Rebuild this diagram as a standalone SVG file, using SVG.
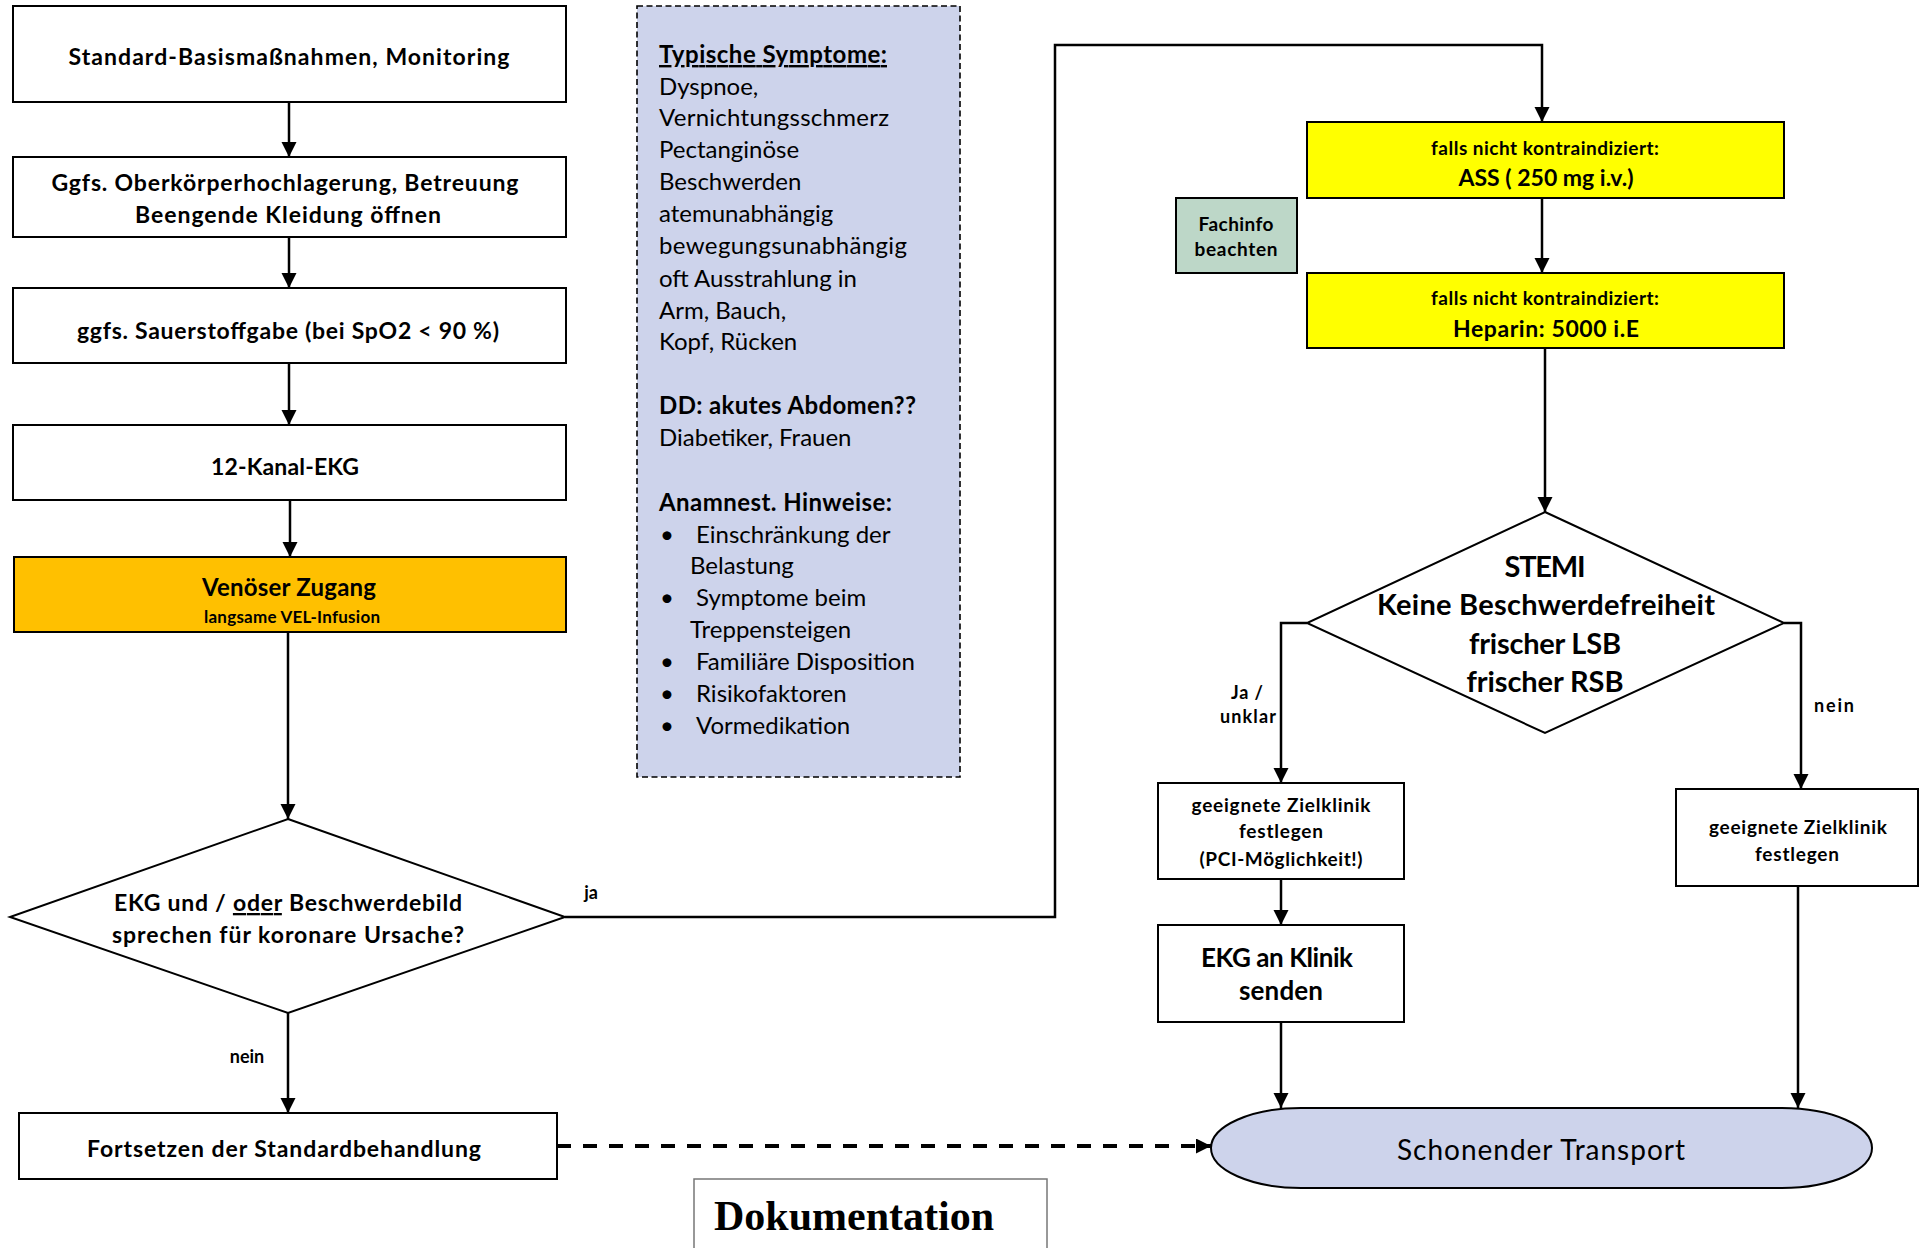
<svg xmlns="http://www.w3.org/2000/svg" width="1919" height="1248" viewBox="0 0 1919 1248">
  <defs>
    <style>
      .box { fill: #ffffff; stroke: #000; stroke-width: 2; }
      .orange { fill: #ffc000; }
      .yellow { fill: #ffff00; }
      .sage { fill: #bdd7c8; }
      .lav { fill: #cdd3eb; }
      .panel { fill: #cdd3eb; stroke: #000; stroke-width: 1.6; stroke-dasharray: 6 3.5; }
      .doc { fill: #ffffff; stroke: #777; stroke-width: 1.5; }
      .t { font-family: Lato, "Liberation Sans", sans-serif; fill: #000; }
      .b { font-weight: 700; }
      .c { text-anchor: middle; }
      .serif { font-family: "Liberation Serif", "Times New Roman", serif; font-weight: 700; fill: #000; }
      .line { fill: none; stroke: #000; stroke-width: 2.5; }
      .dash { fill: none; stroke: #000; stroke-width: 4; stroke-dasharray: 14 12; }
    </style>
    <marker id="arrow" markerUnits="userSpaceOnUse" markerWidth="16" markerHeight="16" refX="15" refY="7.5" orient="auto">
      <path d="M0,0 L15,7.5 L0,15 Z" fill="#000"/>
    </marker>
  </defs>

  <!-- connectors -->
  <g id="connectors">
    <path class="line" d="M289,102 V157" marker-end="url(#arrow)"/>
    <path class="line" d="M289,237 V288" marker-end="url(#arrow)"/>
    <path class="line" d="M289,363 V425" marker-end="url(#arrow)"/>
    <path class="line" d="M290,500 V557" marker-end="url(#arrow)"/>
    <path class="line" d="M288,632 V819" marker-end="url(#arrow)"/>
    <path class="line" d="M288,1013 V1113" marker-end="url(#arrow)"/>
    <path class="line" d="M565,917 H1055 V45 H1542 V122" marker-end="url(#arrow)"/>
    <path class="line" d="M1542,198 V273" marker-end="url(#arrow)"/>
    <path class="line" d="M1545,348 V512" marker-end="url(#arrow)"/>
    <path class="line" d="M1307,623 H1281 V783" marker-end="url(#arrow)"/>
    <path class="line" d="M1784,623 H1801 V789" marker-end="url(#arrow)"/>
    <path class="line" d="M1281,879 V925" marker-end="url(#arrow)"/>
    <path class="line" d="M1281,1022 V1108" marker-end="url(#arrow)"/>
    <path class="line" d="M1798,886 V1108" marker-end="url(#arrow)"/>
    <path class="dash" d="M557,1146 H1211" marker-end="url(#arrow)"/>
    <!-- edge labels -->
    <text class="t b c" x="591" y="899" font-size="18">ja</text>
    <text class="t b c" x="247" y="1063" font-size="18">nein</text>
    <text class="t b c" x="1247" y="699" font-size="18" textLength="32">Ja /</text>
    <text class="t b c" x="1248" y="723" font-size="18" textLength="56">unklar</text>
    <text class="t b c" x="1834" y="712" font-size="18" textLength="40">nein</text>
  </g>

  <g id="basis">
    <rect class="box" x="13" y="6" width="553" height="96"/>
    <text class="t b c" x="289" y="65" font-size="23" textLength="441">Standard-Basismaßnahmen, Monitoring</text>
  </g>

  <g id="lagerung">
    <rect class="box" x="13" y="157" width="553" height="80"/>
    <text class="t b c" x="285" y="191" font-size="23" textLength="467">Ggfs. Oberkörperhochlagerung, Betreuung</text>
    <text class="t b c" x="288" y="223" font-size="23" textLength="306">Beengende Kleidung öffnen</text>
  </g>

  <g id="sauerstoff">
    <rect class="box" x="13" y="288" width="553" height="75"/>
    <text class="t b c" x="288" y="339" font-size="23" textLength="422">ggfs. Sauerstoffgabe (bei SpO2 &lt; 90 %)</text>
  </g>

  <g id="ekg12">
    <rect class="box" x="13" y="425" width="553" height="75"/>
    <text class="t b c" x="285" y="475" font-size="23" textLength="148">12-Kanal-EKG</text>
  </g>

  <g id="zugang">
    <rect class="box orange" x="14" y="557" width="552" height="75"/>
    <text class="t b c" x="289" y="596" font-size="24" textLength="174">Venöser Zugang</text>
    <text class="t b c" x="292" y="623" font-size="17" textLength="176">langsame VEL-Infusion</text>
  </g>

  <g id="frage-koronar">
    <polygon class="box" points="288,819 565,917 288,1013 10,917"/>
    <text class="t b c" x="288" y="911" font-size="23" textLength="348">EKG und / <tspan text-decoration="underline">oder</tspan> Beschwerdebild</text>
    <text class="t b c" x="288" y="943" font-size="23" textLength="352">sprechen für koronare Ursache?</text>
  </g>

  <g id="standard">
    <rect class="box" x="19" y="1113" width="538" height="66"/>
    <text class="t b c" x="284" y="1157" font-size="23" textLength="394">Fortsetzen der Standardbehandlung</text>
  </g>

  <g id="hinweise">
    <rect class="panel" x="637" y="6" width="323" height="771"/>
    <g class="t" font-size="24">
      <text class="b" x="659" y="63" text-decoration="underline" textLength="228">Typische Symptome:</text>
      <text x="659" y="95">Dyspnoe,</text>
      <text x="659" y="126" textLength="230">Vernichtungsschmerz</text>
      <text x="659" y="158">Pectanginöse</text>
      <text x="659" y="190">Beschwerden</text>
      <text x="659" y="222">atemunabhängig</text>
      <text x="659" y="254" textLength="248">bewegungsunabhängig</text>
      <text x="659" y="287">oft Ausstrahlung in</text>
      <text x="659" y="319">Arm, Bauch,</text>
      <text x="659" y="350">Kopf, Rücken</text>
      <text class="b" x="659" y="414" textLength="257">DD: akutes Abdomen??</text>
      <text x="659" y="446">Diabetiker, Frauen</text>
      <text class="b" x="659" y="511" textLength="233">Anamnest. Hinweise:</text>
      <text x="660" y="543">•</text>
      <text x="696" y="543">Einschränkung der</text>
      <text x="690" y="574">Belastung</text>
      <text x="660" y="606">•</text>
      <text x="696" y="606">Symptome beim</text>
      <text x="690" y="638">Treppensteigen</text>
      <text x="660" y="670">•</text>
      <text x="696" y="670">Familiäre Disposition</text>
      <text x="660" y="702">•</text>
      <text x="696" y="702">Risikofaktoren</text>
      <text x="660" y="734">•</text>
      <text x="696" y="734">Vormedikation</text>
    </g>
  </g>

  <g id="ass">
    <rect class="box yellow" x="1307" y="122" width="477" height="76"/>
    <text class="t b c" x="1545" y="155" font-size="19" textLength="228">falls nicht kontraindiziert:</text>
    <text class="t b c" x="1546" y="186" font-size="23" textLength="175">ASS ( 250 mg i.v.)</text>
  </g>

  <g id="fachinfo">
    <rect class="box sage" x="1176" y="198" width="121" height="75"/>
    <text class="t b c" x="1236" y="231" font-size="19" textLength="75">Fachinfo</text>
    <text class="t b c" x="1236" y="256" font-size="19" textLength="83">beachten</text>
  </g>

  <g id="heparin">
    <rect class="box yellow" x="1307" y="273" width="477" height="75"/>
    <text class="t b c" x="1545" y="305" font-size="19" textLength="228">falls nicht kontraindiziert:</text>
    <text class="t b c" x="1546" y="337" font-size="23" textLength="186">Heparin: 5000 i.E</text>
  </g>

  <g id="stemi">
    <polygon class="box" points="1545,512 1784,623 1545,733 1307,623"/>
    <text class="t b c" x="1545" y="577" font-size="29" textLength="81">STEMI</text>
    <text class="t b c" x="1546" y="615" font-size="29" textLength="338">Keine Beschwerdefreiheit</text>
    <text class="t b c" x="1545" y="654" font-size="29" textLength="152">frischer LSB</text>
    <text class="t b c" x="1545" y="692" font-size="29" textLength="157">frischer RSB</text>
  </g>

  <g id="zielklinik-pci">
    <rect class="box" x="1158" y="783" width="246" height="96"/>
    <text class="t b c" x="1281" y="812" font-size="19" textLength="179">geeignete Zielklinik</text>
    <text class="t b c" x="1281" y="838" font-size="19" textLength="84">festlegen</text>
    <text class="t b c" x="1281" y="866" font-size="19" textLength="163">(PCI-Möglichkeit!)</text>
  </g>

  <g id="ekg-senden">
    <rect class="box" x="1158" y="925" width="246" height="97"/>
    <text class="t b c" x="1277" y="967" font-size="26" textLength="152">EKG an Klinik</text>
    <text class="t b c" x="1281" y="1000" font-size="26" textLength="84">senden</text>
  </g>

  <g id="zielklinik">
    <rect class="box" x="1676" y="789" width="242" height="97"/>
    <text class="t b c" x="1798" y="834" font-size="19" textLength="178">geeignete Zielklinik</text>
    <text class="t b c" x="1797" y="861" font-size="19" textLength="84">festlegen</text>
  </g>

  <g id="transport">
    <rect class="box lav" x="1211" y="1108" width="661" height="80" rx="90" ry="40"/>
    <text class="t c" x="1541" y="1160" font-size="28" textLength="288">Schonender Transport</text>
  </g>

  <g id="dokumentation">
    <rect class="doc" x="694" y="1179" width="353" height="90"/>
    <text class="serif c" x="854" y="1230" font-size="42" textLength="280">Dokumentation</text>
  </g>
</svg>
